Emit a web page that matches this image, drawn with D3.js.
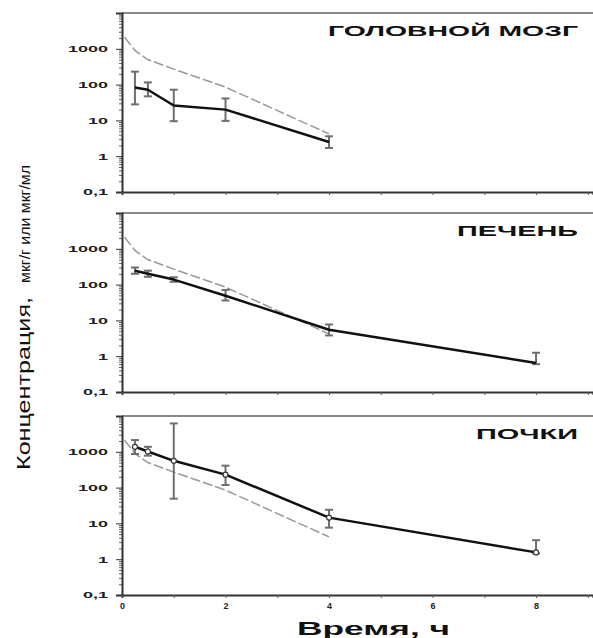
<!DOCTYPE html>
<html>
<head>
<meta charset="utf-8">
<script src="https://cdn.jsdelivr.net/npm/d3@7"></script>
<style>
  body { margin: 0; background: #fff; }
  svg { display: block; }
  text { font-family: "Liberation Sans", Arial, sans-serif; }
</style>
</head>
<body>
<div id="chart"></div>
<script>
// sampling times, h
const times = [0.25, 0.5, 1, 2, 4, 8];

// organ concentrations (mean, upper and lower error)
const brain = [83, 72, 26, 20, 2.5];
const brainHi = [230, 115, 72, 41, 3.6];
const brainLo = [28, 47, 9.5, 9.7, 1.7];

const liver = [245, 200, 138, 49, 5.5, 0.65];
const liverHi = [300, 245, 160, 71, 7.7, 1.25];
const liverLo = [200, 165, 120, 36, 3.8, 0.6];

const kidney = [1380, 1020, 560, 230, 14.5, 1.55];
const kidneyHi = [2130, 1380, 6200, 410, 24, 3.4];
const kidneyLo = [870, 780, 49, 118, 7.6, 1.45];

// dashed reference curve, same in every panel
const refTimes = [0.05, 0.25, 0.5, 1, 2, 4];
const refValues = [2100, 900, 500, 270, 85, 4.2];

const panelTitles = ["ГОЛОВНОЙ МОЗГ", "ПЕЧЕНЬ", "ПОЧКИ"];
const yTicks = [0.1, 1, 10, 100, 1000];
const yTickLabels = ["0,1", "1", "10", "100", "1000"];
const xTicks = [0, 2, 4, 6, 8];

const width = 593, height = 638;
const left = 122, right = 593;
const panelTops = [13, 213, 416];
const panelH = 179;

const svg = d3.select("#chart").append("svg")
  .attr("width", width).attr("height", height);

const x = d3.scaleLinear().domain([0, 9.1]).range([left, right]);

const panels = [
  { mean: brain, hi: brainHi, lo: brainLo, marker: false, titleW: 250 },
  { mean: liver, hi: liverHi, lo: liverLo, marker: false, titleW: 121 },
  { mean: kidney, hi: kidneyHi, lo: kidneyLo, marker: true, titleW: 102 }
];

// minor log ticks
const minorTicks = [];
for (let d = -1; d < 4; d++) {
  for (let k = 2; k <= 9; k++) minorTicks.push(k * Math.pow(10, d));
}

panels.forEach((p, i) => {
  const top = panelTops[i];
  const bottom = top + panelH;
  const y = d3.scaleLog().domain([0.1, 10000]).range([bottom, top]);
  const g = svg.append("g");

  // top frame
  g.append("line")
    .attr("x1", left).attr("x2", right)
    .attr("y1", top).attr("y2", top)
    .attr("stroke", "#8a8a8a").attr("stroke-width", 2);

  // minor y ticks
  g.append("g")
    .attr("transform", `translate(${left},0)`)
    .call(d3.axisLeft(y).tickValues(minorTicks).tickSize(3).tickFormat(""))
    .call(a => a.select(".domain").remove())
    .call(a => a.selectAll("line").attr("stroke", "#666"));

  // major y ticks
  const yAxis = g.append("g")
    .attr("transform", `translate(${left},0)`)
    .call(d3.axisLeft(y).tickValues(yTicks).tickSize(6).tickPadding(1)
      .tickFormat((d, j) => yTickLabels[j]));
  yAxis.select(".domain").attr("stroke", "#333").attr("stroke-width", 2);
  yAxis.selectAll("line").attr("stroke", "#333");
  yAxis.selectAll("text")
    .attr("font-size", 9).attr("font-weight", "bold")
    .attr("font-family", "Liberation Sans, Arial, sans-serif")
    .attr("fill", "#222")
    .attr("transform", "scale(2,1)");

  // x axis
  const xAxis = g.append("g")
    .attr("transform", `translate(0,${bottom})`)
    .call(d3.axisBottom(x).tickValues(d3.range(0, 10)).tickSize(3)
      .tickFormat(d => (i === 2 && xTicks.includes(d)) ? d : ""));
  xAxis.select(".domain").attr("stroke", "#333").attr("stroke-width", 2);
  xAxis.selectAll("line").attr("stroke", "#555");
  xAxis.selectAll("text")
    .attr("font-size", 9).attr("font-weight", "bold")
    .attr("font-family", "Liberation Sans, Arial, sans-serif")
    .attr("fill", "#222").attr("dy", "0.9em");

  // dashed reference curve
  g.append("path")
    .datum(refTimes.map((t, j) => [t, refValues[j]]))
    .attr("fill", "none")
    .attr("stroke", "#999").attr("stroke-width", 1.5)
    .attr("stroke-dasharray", "10,3")
    .attr("d", d3.line().x(d => x(d[0])).y(d => y(d[1])));

  const pts = p.mean.map((v, j) => ({ t: times[j], v: v, hi: p.hi[j], lo: p.lo[j] }));

  // error bars
  const eb = g.append("g").attr("stroke", "#6e6e6e").attr("stroke-width", 2);
  eb.selectAll(".v").data(pts).join("line")
    .attr("x1", d => x(d.t)).attr("x2", d => x(d.t))
    .attr("y1", d => y(d.hi)).attr("y2", d => y(d.lo));
  eb.selectAll(".h").data(pts.flatMap(d => [[d.t, d.hi], [d.t, d.lo]])).join("line")
    .attr("x1", d => x(d[0]) - 4).attr("x2", d => x(d[0]) + 4)
    .attr("y1", d => y(d[1])).attr("y2", d => y(d[1]));

  // mean line
  g.append("path")
    .datum(pts)
    .attr("fill", "none")
    .attr("stroke", "#111").attr("stroke-width", 2.5)
    .attr("stroke-linejoin", "round")
    .attr("d", d3.line().x(d => x(d.t)).y(d => y(d.v)));

  if (p.marker) {
    g.selectAll("circle").data(pts).join("circle")
      .attr("cx", d => x(d.t)).attr("cy", d => y(d.v)).attr("r", 2.5)
      .attr("fill", "#fff").attr("stroke", "#333").attr("stroke-width", 1.2);
  }

  // panel title
  g.append("text")
    .attr("x", 578 - p.titleW).attr("y", top + 23)
    .attr("font-size", 14).attr("font-weight", "bold")
    .attr("fill", "#111")
    .attr("textLength", p.titleW).attr("lengthAdjust", "spacingAndGlyphs")
    .text(panelTitles[i]);
});

// x axis title
svg.append("text")
  .attr("x", 297).attr("y", 635)
  .attr("font-size", 18).attr("font-weight", "bold").attr("fill", "#111")
  .attr("textLength", 153).attr("lengthAdjust", "spacingAndGlyphs")
  .text("Время, ч");

// y axis title, two sizes
svg.append("text")
  .attr("transform", "translate(30,470) rotate(-90)")
  .attr("font-family", "DejaVu Sans Condensed, Liberation Sans Narrow, sans-serif")
  .attr("font-size", 19).attr("fill", "#111")
  .attr("textLength", 173).attr("lengthAdjust", "spacingAndGlyphs")
  .text("Концентрация,");
svg.append("text")
  .attr("transform", "translate(30,283) rotate(-90)")
  .attr("font-family", "DejaVu Sans Condensed, Liberation Sans Narrow, sans-serif")
  .attr("font-size", 14).attr("fill", "#111")
  .attr("textLength", 118).attr("lengthAdjust", "spacingAndGlyphs")
  .text("мкг/г или мкг/мл");
</script>
</body>
</html>
